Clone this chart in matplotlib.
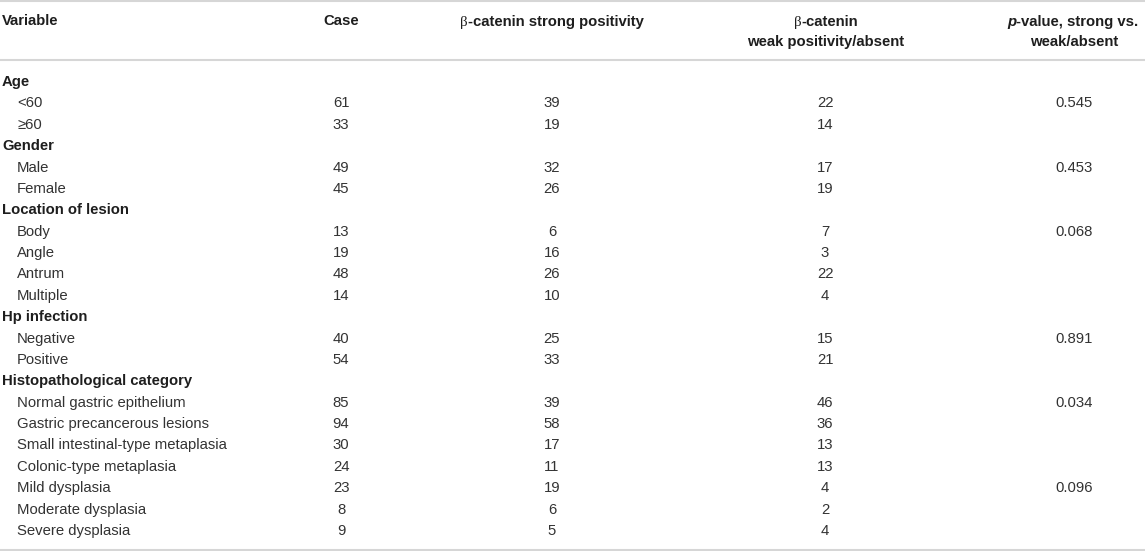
import matplotlib.pyplot as plt

plt.rcParams['font.family'] = ['Liberation Sans', 'DejaVu Sans']

# table contents
row_labels = ["Age", "<60", "≥60",
              "Gender", "Male", "Female",
              "Location of lesion", "Body", "Angle", "Antrum", "Multiple",
              "Hp infection", "Negative", "Positive",
              "Histopathological category", "Normal gastric epithelium",
              "Gastric precancerous lesions", "Small intestinal-type metaplasia",
              "Colonic-type metaplasia", "Mild dysplasia", "Moderate dysplasia",
              "Severe dysplasia"]
is_group = [True, False, False,
            True, False, False,
            True, False, False, False, False,
            True, False, False,
            True, False, False, False, False, False, False, False]
case = ["", "61", "33", "", "49", "45", "", "13", "19", "48", "14",
        "", "40", "54", "", "85", "94", "30", "24", "23", "8", "9"]
strong = ["", "39", "19", "", "32", "26", "", "6", "16", "26", "10",
          "", "25", "33", "", "39", "58", "17", "11", "19", "6", "5"]
weak = ["", "22", "14", "", "17", "19", "", "7", "3", "22", "4",
        "", "15", "21", "", "46", "36", "13", "13", "4", "2", "4"]
pvals = ["", "0.545", "", "", "0.453", "", "", "0.068", "", "", "",
         "", "0.891", "", "", "0.034", "", "", "", "0.096", "", ""]

W, H = 1145, 551
fig = plt.figure(figsize=(W / 100, H / 100), dpi=100)
ax = fig.add_axes([0, 0, 1, 1])
ax.set_xlim(0, W)
ax.set_ylim(H, 0)
ax.axis('off')

fs = 10.7
txt_col = '#333333'
head_col = '#1e1e1e'
line_col = '#d6d6d6'
renderer = fig.canvas.get_renderer()


def centered_segments(xc, y, segs):
    '''Draw text pieces with different styles side by side, centred on xc.'''
    arts = []
    for s, kw in segs:
        t = ax.text(0, y, s, fontsize=fs, color=head_col, va='baseline', **kw)
        arts.append(t)
    widths = [t.get_window_extent(renderer).width for t in arts]
    x = xc - sum(widths) / 2
    for t, w in zip(arts, widths):
        t.set_x(x)
        x += w


# horizontal rules
for y in (1, 60, 550):
    ax.axhline(y, color=line_col, lw=1.5)

# header
hy1, hy2 = 21, 42
bold = dict(fontweight='bold')
beta = dict(family=['Liberation Serif', 'DejaVu Serif'])
ax.text(2, hy1, "Variable", fontsize=fs, color=head_col, va='center', **bold)
ax.text(341, hy1, "Case", fontsize=fs, color=head_col, va='center', ha='center', **bold)
base1, base2 = hy1 + 5, hy2 + 5
centered_segments(552, base1, [("β", beta), ("-catenin strong positivity", bold)])
centered_segments(826, base1, [("β", beta), ("-catenin", bold)])
ax.text(826, hy2, "weak positivity/absent", fontsize=fs, color=head_col,
        va='center', ha='center', **bold)
centered_segments(1073, base1, [("p", dict(fontweight='bold', style='italic')),
                                ("-value, strong vs.", bold)])
ax.text(1074, hy2, "weak/absent", fontsize=fs, color=head_col, va='center', ha='center', **bold)

# body rows
y0, step = 82, 21.38
for i, lab in enumerate(row_labels):
    y = y0 + i * step
    if is_group[i]:
        ax.text(2, y, lab, fontsize=fs, fontweight='bold', color=head_col, va='center')
    else:
        ax.text(17, y, lab, fontsize=fs, color=txt_col, va='center')
    ax.text(341, y, case[i], fontsize=fs, color=txt_col, va='center', ha='center')
    ax.text(552, y, strong[i], fontsize=fs, color=txt_col, va='center', ha='center')
    ax.text(825, y, weak[i], fontsize=fs, color=txt_col, va='center', ha='center')
    ax.text(1074, y, pvals[i], fontsize=fs, color=txt_col, va='center', ha='center')

fig.savefig('out.png', dpi=100)
